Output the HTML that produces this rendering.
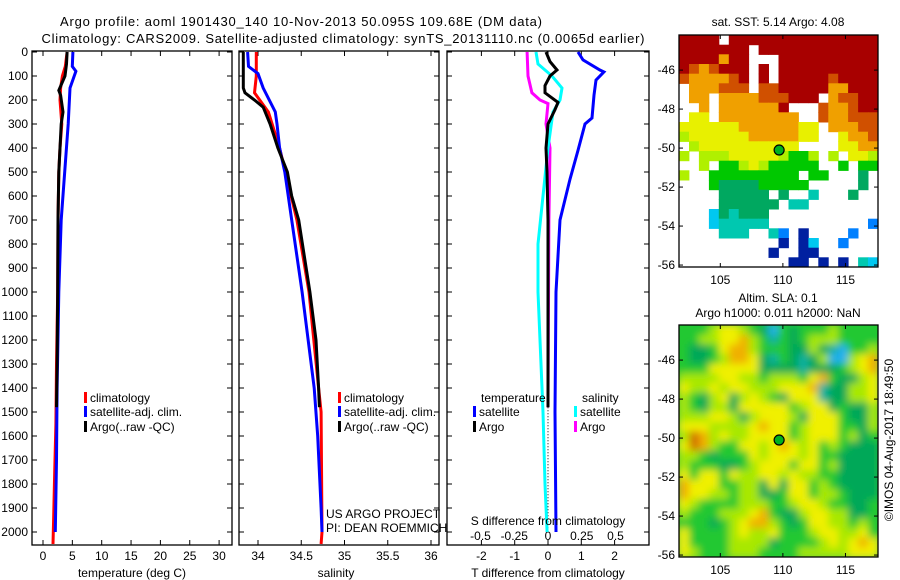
<!DOCTYPE html>
<html><head><meta charset="utf-8">
<style>
body{margin:0;background:#fff;}
svg{display:block;font-family:"Liberation Sans",sans-serif;}
text{fill:#000;}
</style></head>
<body>
<svg id="c" width="900" height="580" viewBox="0 0 900 580">
<text x="301" y="26" font-size="13" text-anchor="middle" textLength="482">Argo profile: aoml 1901430_140 10-Nov-2013 50.095S 109.68E (DM data)</text>
<text x="343" y="43" font-size="13" text-anchor="middle" textLength="603">Climatology: CARS2009. Satellite-adjusted climatology: synTS_20131110.nc (0.0065d earlier)</text>
<text x="778" y="26" font-size="12" text-anchor="middle">sat. SST: 5.14 Argo: 4.08</text>
<text x="778" y="302" font-size="12" text-anchor="middle">Altim. SLA: 0.1</text>
<text x="778" y="317" font-size="12" text-anchor="middle">Argo h1000: 0.011 h2000: NaN</text>
<text transform="translate(893,440) rotate(-90)" font-size="12" text-anchor="middle">©IMOS 04-Aug-2017 18:49:50</text>
<g id="g"></g>
</svg>
<script>
// ---------- data ----------
const depthTicks=[0,100,200,300,400,500,600,700,800,900,1000,1100,1200,1300,1400,1500,1600,1700,1800,1900,2000];
const tempTicks=[0,5,10,15,20,25,30];
const salTicks=[34,34.5,35,35.5,36];
const tdTicks=[-2,-1,0,1,2];
const sdTicks=[-0.5,-0.25,0,0.25,0.5];
const sdTickLabels=["-0.5","-0.25","0","0.25","0.5"];
const lonTicks=[105,110,115];
const latTicks=[-46,-48,-50,-52,-54,-56];

const tClimDepth=[0,60,100,150,200,300,400,500,700,1000,1300,1550,1750,1950,2050];
const tClimVal=[4.1,3.8,3.3,3.0,2.9,3.2,2.9,2.7,2.55,2.5,2.3,2.2,2.0,1.8,1.7];
const tSatDepth=[0,60,80,150,300,500,700,1000,1400,1700,2000];
const tSatVal=[5.1,5.0,5.6,4.6,4.3,3.7,3.1,2.7,2.4,2.3,2.1];
const tArgoDepth=[0,50,100,160,180,250,300,400,500,700,1000,1300,1480];
const tArgoVal=[4.1,4.0,3.75,2.7,3.0,3.4,3.1,2.9,2.7,2.55,2.5,2.4,2.3];

const sClimDepth=[0,100,170,200,250,400,700,1000,1400,1500,2000,2050];
const sClimVal=[33.98,33.98,33.96,34.02,34.12,34.25,34.45,34.59,34.70,34.73,34.74,34.73];
const sSatDepth=[0,60,90,150,250,300,400,500,700,1000,1400,1600,1900,2000];
const sSatVal=[33.88,33.89,34.0,34.06,34.2,34.22,34.25,34.31,34.39,34.51,34.65,34.69,34.73,34.74];
const sArgoDepth=[0,150,170,200,230,300,400,500,600,700,1000,1200,1400,1480];
const sArgoVal=[33.83,33.83,33.85,33.96,34.06,34.14,34.23,34.34,34.39,34.47,34.6,34.67,34.7,34.71];

const dTSatDepth=[0,33,75,83,117,180,275,300,410,530,700,1000,1500,2000];
const dTSatVal=[0.9,1.05,1.56,1.68,1.44,1.38,1.32,1.11,0.9,0.66,0.36,0.24,0.21,0.24];
const dTArgoDepth=[0,40,75,100,140,170,210,240,300,400,500,700,1000,1480];
const dTArgoVal=[-0.06,0.06,0.27,0.06,-0.09,-0.09,0.3,0.21,0,-0.06,-0.03,0,0,0];
const dSArgoDepth=[0,100,170,200,215,300,400,700,1480];
const dSArgoVal=[-0.155,-0.148,-0.119,-0.059,0,-0.015,0.015,0.007,0];
const dSSatDepth=[0,50,100,150,200,250,400,600,800,1000,1300,1500,1800,2000];
const dSSatVal=[-0.089,-0.074,0.03,0.104,0.089,0.037,0,-0.037,-0.074,-0.074,-0.052,-0.037,-0.022,-0.007];

const sstRows=[
"RRRR.RRRRRRRRRRRRRRR",
"RRRRRRR.RRRRRRRRRRRR",
"RRRRoRR...RRRRRRRRRR",
"RrorRRR.R.RRRRRRRRRR",
"roooorR.R.RRRRRrRRRR",
".ooorrr.rrRRRRRooRRR",
".oo.oooorrrRRR.orrRR",
"..o.ooooooR...roorRR",
".yy.oooooooo..roorrr",
"yyyyyyooooooyy.ooorr",
"lyyyyyyoooooyy..yoor",
".lyyyyyyyyyy....yyoo",
"l.lllyyyyylggl.l.yyl",
"..l.gglylggggg..g.gg",
"l..ggggggggg.gg...G.",
"...gGGGGggggg.....G.",
"....GGGGG.G..t...G..",
"....GGGGGG.tt.......",
"...cGtGGG...........",
"...cttttt..........b",
"....ttt..tb.B....b..",
"..........B.Bc..b...",
".........B..BB......",
"...........BB.B.B.tc"];
const slaRows=[
"ggglyylgGcgGggglgggg",
"ggllyyolgtgGglllgggg",
"gGGgyoolgggGGlGtcggl",
"gGGglooyGtgGtGlcclyo",
"gggyyyyyGGGGtGGGglyo",
"llllyyllglllgyogGGly",
"yllylyylllyyyotGGlly",
"lgGlyGlylgGyyytGGlly",
"lgGllGyyyyyglyyGgGGl",
"lllyylGlyyylGyyygGGl",
"yyyllllyoyyglyyyggGl",
"lOolyllyyyyglyyyglGg",
"yOolggyylyoylyglgGGG",
"llgGgggylyyylyggGGGG",
"lgggGGglyyygyyglGGGG",
"ygyygyllyylyllggGGGG",
"oyyyggllGyGyyglgGGGG",
"oyyllgllGGgyygllgGGG",
"ylgggglllgglyylggGGg",
"lggglllyogGGlyyllGGg",
"gggGglyoolgGgyyllglg",
"ygggglyllyggglyyllyg",
"yggggllllGgggglylyoy",
"ylggglllgggglllllyyy"];
const floatLon=109.7, floatLat=-50.1;

// ---------- drawing ----------
const NS="http://www.w3.org/2000/svg";
const G=document.getElementById('g');
function mk(tag,attrs,parent){const e=document.createElementNS(NS,tag);for(const k in attrs)e.setAttribute(k,attrs[k]);(parent||G).appendChild(e);return e;}
const top0=52, pxPerM=0.24, bot=545;
const yD=d=>top0+d*pxPerM;
const xT=t=>43+5.87*t;
const xS=s=>258+86.5*(s-34);
const xDT=v=>548+33.3*v;
const xDS=v=>548+135*v;

function frame(x0,x1,name){
  const r=mk('rect',{x:x0,y:51,width:x1-x0,height:bot-51,fill:'none',stroke:'#000','stroke-width':1.3});
  
  
  depthTicks.forEach(d=>{
    const y=yD(d);
    mk('line',{x1:x0,x2:x0+5,y1:y,y2:y,stroke:'#000'});
    mk('line',{x1:x1-5,x2:x1,y1:y,y2:y,stroke:'#000'});
  });
}
function xticks(ticks,fx,labels,ly,name){
  ticks.forEach((t,i)=>{
    const x=fx(t);
    mk('line',{x1:x,x2:x,y1:51,y2:56,stroke:'#000'});
    mk('line',{x1:x,x2:x,y1:bot-5,y2:bot,stroke:'#000'});
    const tx=mk('text',{x:x,y:ly,'font-size':12,'text-anchor':'middle'});
    tx.textContent=labels?labels[i]:String(t);
    
    
  });
}
function line(ds,vs,fx,color,name,w){
  const pts=ds.map((d,i)=>fx(vs[i]).toFixed(1)+','+yD(d).toFixed(1)).join(' ');
  const p=mk('polyline',{points:pts,fill:'none',stroke:color,'stroke-width':w||3,'stroke-linejoin':'miter'});
  
  
}
function legend(x,y,color,label,name){
  mk('rect',{x:x,y:y-6,width:3,height:11,fill:color});
  const t=mk('text',{x:x+6,y:y+4,'font-size':12});
  t.textContent=label;
  
  
}

depthTicks.forEach(d=>{
  const t=mk('text',{x:28,y:yD(d)+4,'font-size':12,'text-anchor':'end'});
  t.textContent=String(d);
  
  
});

frame(32,232,'temperature-panel');
xticks(tempTicks,xT,null,560,'temperature');
line(tClimDepth,tClimVal,xT,'#f00','temp-climatology-line');
line(tSatDepth,tSatVal,xT,'#00f','temp-satellite-line');
line(tArgoDepth,tArgoVal,xT,'#000','temp-argo-line');
legend(84,398,'#f00','climatology','temp-legend-climatology');
legend(84,412,'#00f','satellite-adj. clim.','temp-legend-satellite');
legend(84,427,'#000','Argo(..raw -QC)','temp-legend-argo');
let t=mk('text',{x:132,y:577,'font-size':12,'text-anchor':'middle'});t.textContent='temperature (deg C)';



frame(239,439,'salinity-panel');
xticks(salTicks,xS,null,560,'salinity');
line(sClimDepth,sClimVal,xS,'#f00','sal-climatology-line');
line(sSatDepth,sSatVal,xS,'#00f','sal-satellite-line');
line(sArgoDepth,sArgoVal,xS,'#000','sal-argo-line');
legend(338,398,'#f00','climatology','sal-legend-climatology');
legend(338,412,'#00f','satellite-adj. clim.','sal-legend-satellite');
legend(338,427,'#000','Argo(..raw -QC)','sal-legend-argo');
t=mk('text',{x:336,y:577,'font-size':12,'text-anchor':'middle'});t.textContent='salinity';


t=mk('text',{x:326,y:518,'font-size':12});t.textContent='US ARGO PROJECT';


t=mk('text',{x:326,y:532,'font-size':12});t.textContent='PI: DEAN ROEMMICH';



frame(447,649,'difference-panel');
xticks(tdTicks,xDT,null,560,'t-diff');
sdTicks.forEach((v,i)=>{
  const tx=mk('text',{x:xDS(v),y:540,'font-size':12,'text-anchor':'middle'});
  tx.textContent=sdTickLabels[i];
  
  
});
mk('line',{x1:xDT(0),x2:xDT(0),y1:yD(1480),y2:yD(2000),stroke:'#000','stroke-dasharray':'1,2'});
line(dSArgoDepth,dSArgoVal,xDS,'#f0f','sdiff-argo-line');
line(dSSatDepth,dSSatVal,xDS,'#0ff','sdiff-satellite-line');
line(dTSatDepth,dTSatVal,xDT,'#00f','tdiff-satellite-line');
line(dTArgoDepth,dTArgoVal,xDT,'#000','tdiff-argo-line');
t=mk('text',{x:481,y:402,'font-size':12});t.textContent='temperature';


t=mk('text',{x:582,y:402,'font-size':12});t.textContent='salinity';


legend(473,412,'#00f','satellite','tdiff-legend-satellite');
legend(473,427,'#000','Argo','tdiff-legend-argo');
legend(574,412,'#0ff','satellite','sdiff-legend-satellite');
legend(574,427,'#f0f','Argo','sdiff-legend-argo');
t=mk('text',{x:548,y:525,'font-size':12,'text-anchor':'middle'});t.textContent='S difference from climatology';


t=mk('text',{x:548,y:577,'font-size':12,'text-anchor':'middle'});t.textContent='T difference from climatology';



const lon0=101.7, lon1=117.6, mx0=679, mx1=878;
const xL=l=>mx0+(l-lon0)/(lon1-lon0)*(mx1-mx0);
const sstPal={R:'#a80000',r:'#d05000',o:'#f0a000',y:'#e8f000',l:'#b0f000',g:'#00c800',G:'#00a860',t:'#00c8b0',c:'#00c8f0',b:'#0080ff',B:'#0020a0'};
const slaPal={y:'#f0f000',l:'#a8e800',g:'#20c830',G:'#00a858',t:'#10b0a0',c:'#20b0f0',o:'#f0b000',O:'#d07000'};
function map(rows,pal,ytop,ybot,latTop,name,blur){
  const yLat=la=>ytop+(latTop-la)/(latTop+56.1)*(ybot-ytop);
  const grp=mk('g',{});
  
  
  const cid=name+'-clip';
  const cp=mk('clipPath',{id:cid},grp);mk('rect',{x:mx0,y:ytop,width:mx1-mx0,height:ybot-ytop},cp);
  const inner=mk('g',{'clip-path':'url(#'+cid+')'},grp);
  const cells=blur?mk('g',{filter:'url(#bl)'},inner):inner;
  const nr=rows.length, nc=rows[0].length, cw=(mx1-mx0)/nc, ch=(ybot-ytop)/nr;
  if(blur) mk('rect',{x:mx0-10,y:ytop-10,width:mx1-mx0+20,height:ybot-ytop+20,fill:pal.g},cells);
  rows.forEach((row,r)=>{
    for(let c=0;c<nc;c++){const k=row[c];if(!pal[k])continue;
      mk('rect',{x:(mx0+c*cw).toFixed(1),y:(ytop+r*ch).toFixed(1),width:(cw+0.5).toFixed(1),height:(ch+0.5).toFixed(1),fill:pal[k]},cells);}
  });
  mk('rect',{x:mx0,y:ytop,width:mx1-mx0,height:ybot-ytop,fill:'none',stroke:'#000','stroke-width':1.3},grp);
  lonTicks.forEach(l=>{const x=xL(l);
    mk('line',{x1:x,x2:x,y1:ytop,y2:ytop+4,stroke:'#000'},grp);
    mk('line',{x1:x,x2:x,y1:ybot-4,y2:ybot,stroke:'#000'},grp);
    const tx=mk('text',{x:x,y:ybot+17,'font-size':12,'text-anchor':'middle'},grp);tx.textContent=String(l);
    
    
  });
  latTicks.forEach(la=>{const y=yLat(la);
    mk('line',{x1:mx0,x2:mx0+4,y1:y,y2:y,stroke:'#000'},grp);
    mk('line',{x1:mx1-4,x2:mx1,y1:y,y2:y,stroke:'#000'},grp);
    const tx=mk('text',{x:675,y:y+4,'font-size':12,'text-anchor':'end'},grp);tx.textContent=String(la);
    
    
  });
  const fc=mk('circle',{cx:xL(floatLon),cy:yLat(floatLat),r:5,fill:'#00b020',stroke:'#000','stroke-width':1.2},grp);
  
  
}
const defs=mk('defs',{});const f=mk('filter',{id:'bl',x:'-5%',y:'-5%',width:'110%',height:'110%'},defs);
mk('feGaussianBlur',{stdDeviation:4},f);
map(sstRows,sstPal,35,267,-44.2,'sst-map',false);
map(slaRows,slaPal,325,557,-44.2,'sla-map',true);
</script>
</body></html>
